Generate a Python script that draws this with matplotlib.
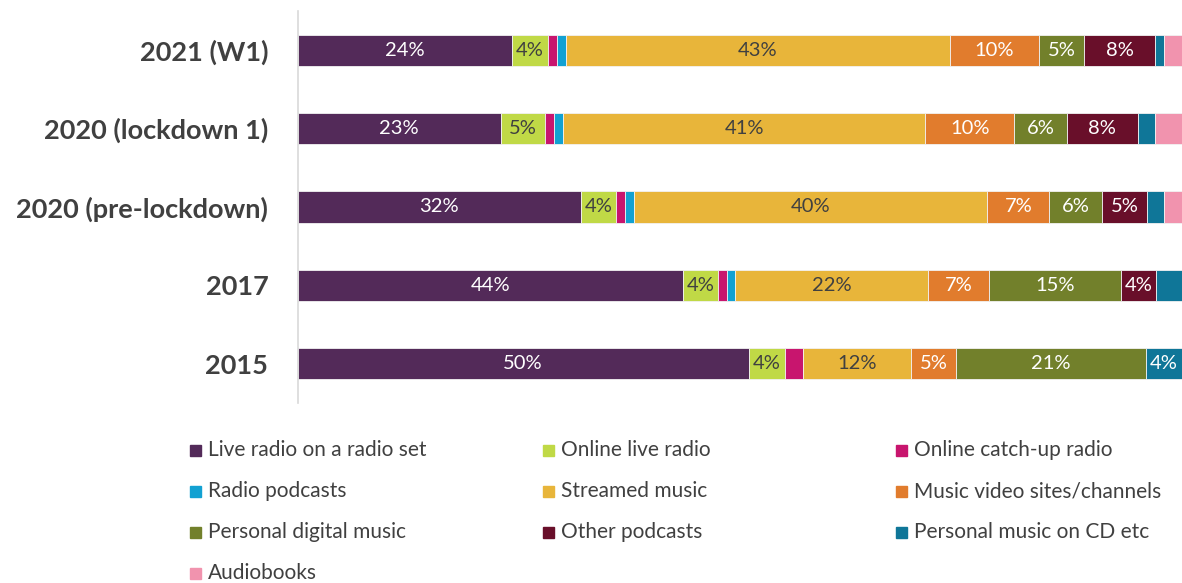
import numpy as np
import matplotlib.pyplot as plt
from matplotlib.patches import Rectangle

plt.rcParams['font.family'] = ['Lato', 'DejaVu Sans']

# Survey waves, top to bottom
waves = ['2021 (W1)', '2020 (lockdown 1)', '2020 (pre-lockdown)', '2017', '2015']

categories = ['Live radio on a radio set', 'Online live radio', 'Online catch-up radio',
              'Radio podcasts', 'Streamed music', 'Music video sites/channels',
              'Personal digital music', 'Other podcasts', 'Personal music on CD etc',
              'Audiobooks']

colors = ['#532A59', '#C0D946', '#C8156E', '#12A1D2', '#E8B53A', '#E17C2D',
          '#72802B', '#690F2A', '#0F7698', '#F193AE']

# Share of listening (%) per wave, one list per category
live_radio_set = [24, 23, 32, 44, 50]
online_live = [4, 5, 4, 4, 4]
online_catchup = [1, 1, 1, 1, 2]
radio_podcasts = [1, 1, 1, 1, 0]
streamed_music = [43, 41, 40, 22, 12]
music_video = [10, 10, 7, 7, 5]
personal_digital = [5, 6, 6, 15, 21]
other_podcasts = [8, 8, 5, 4, 0]
cd_etc = [1, 2, 2, 3, 4]
audiobooks = [2, 3, 2, 0, 0]

series = [live_radio_set, online_live, online_catchup, radio_podcasts, streamed_music,
          music_video, personal_digital, other_podcasts, cd_etc, audiobooks]

dark_text = {'#C0D946', '#E8B53A'}

W, H = 1182, 583
fig = plt.figure(figsize=(W / 100, H / 100), dpi=100)
ax = fig.add_axes([297.5 / W, 1 - 403 / H, 1 - 297.5 / W, (403 - 11) / H])

vals = np.array(series, dtype=float)           # categories x waves
shares = vals / vals.sum(axis=0) * 100          # 100% stacked
y = np.arange(len(waves))
left = np.zeros(len(waves))
for i, cat in enumerate(categories):
    ax.barh(y, shares[i], left=left, height=0.4, color=colors[i],
            edgecolor='#F2F2F2', linewidth=0.6, label=cat)
    for j in range(len(waves)):
        if vals[i, j] >= 4:
            tc = '#404040' if colors[i] in dark_text else 'white'
            ax.text(left[j] + shares[i, j] / 2, y[j], f'{int(vals[i, j])}%',
                    ha='center', va='center', color=tc, fontsize=14.5)
    left += shares[i]

ax.set_xlim(0, 100)
ax.set_ylim(len(waves) - 0.5, -0.5)
ax.set_yticks(y)
ax.set_yticklabels(waves, fontsize=19.5, fontweight='bold', color='#404040')
ax.tick_params(axis='y', length=0, pad=21)
ax.set_xticks([])
for s in ['top', 'right', 'bottom']:
    ax.spines[s].set_visible(False)
ax.spines['left'].set_color('#D9D9D9')
ax.spines['left'].set_linewidth(1.2)

# Legend laid out row by row in three fixed-width columns
col_x = [190, 543, 896]
row_y = [450, 491, 532, 573]
for k, cat in enumerate(categories):
    cx = col_x[k % 3]
    cy = row_y[k // 3]
    fig.patches.append(Rectangle((cx / W, 1 - (cy + 5.5) / H), 11 / W, 11 / H,
                                 transform=fig.transFigure, color=colors[k]))
    fig.text((cx + 18) / W, 1 - cy / H, cat, ha='left', va='center',
             fontsize=15, color='#404040')

fig.savefig('out.png', dpi=100)
